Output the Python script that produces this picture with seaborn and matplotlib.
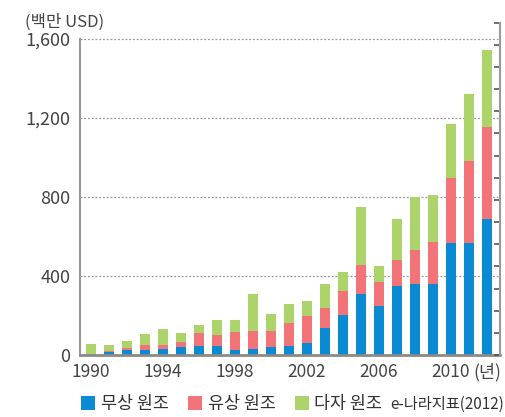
import matplotlib
matplotlib.use("Agg")
import matplotlib.pyplot as plt
import seaborn as sns
import pandas as pd
import numpy as np

years = list(range(1990, 2013))
grant = [1, 17, 27, 25, 30, 42, 47, 47, 25, 30, 42, 47, 61, 138, 203, 309, 248, 349, 359, 359, 569, 569, 689]
loan = [6, 5, 8, 25, 21, 26, 64, 54, 93, 92, 80, 117, 136, 102, 122, 147, 123, 133, 173, 213, 329, 413, 465]
multi = [49, 28, 37, 57, 81, 43, 41, 76, 59, 187, 86, 94, 76, 119, 96, 294, 80, 207, 266, 238, 270, 340, 390]
series_names = ["무상 원조", "유상 원조", "다자 원조"]
colors = ["#0A8AD2", "#F27378", "#ADD46A"]
yticks = [0, 400, 800, 1200, 1600]
ylabel = "(백만 USD)"
source = "e-나라지표(2012)"
unit_label = "(년)"

sns.set_style("white")
plt.rcParams["font.family"] = ["Noto Sans CJK KR", "DejaVu Sans"]

df = pd.DataFrame({"year": [str(y) for y in years], "grant": grant, "loan": loan, "multi": multi})
df["c1"] = df["grant"]
df["c2"] = df["grant"] + df["loan"]
df["c3"] = df["c2"] + df["multi"]

fig = plt.figure(figsize=(5.05, 4.17), dpi=100)
ax = fig.add_axes([80 / 505, 62 / 417, 420 / 505, (355 - 22.7) / 417])

order = df["year"].tolist()
w = 0.55
sns.barplot(data=df, x="year", y="c3", order=order, color=colors[2], width=w,
            saturation=1, ax=ax, linewidth=0, label=series_names[2])
sns.barplot(data=df, x="year", y="c2", order=order, color=colors[1], width=w,
            saturation=1, ax=ax, linewidth=0, label=series_names[1])
sns.barplot(data=df, x="year", y="c1", order=order, color=colors[0], width=w,
            saturation=1, ax=ax, linewidth=0, label=series_names[0])
h, l = ax.get_legend_handles_labels()
if ax.get_legend() is not None:
    ax.get_legend().remove()

ax.set_xlim(-0.61, len(years) - 1 + 0.72)
ax.set_ylim(0, 1682)
ax.set_yticks(yticks)
ax.set_yticklabels([f"{v:,}" for v in yticks])
for v in yticks[1:]:
    ax.axhline(v, color="#999999", lw=0.9, ls=(0, (1.5, 1.5)), xmax=0.995, zorder=0)

xt_labels = []
for y in years:
    if y == years[-1]:
        xt_labels.append(unit_label)
    elif (y - 1990) % 4 == 0:
        xt_labels.append(str(y))
    else:
        xt_labels.append("")
ax.set_xticks(range(len(years)))
ax.set_xticklabels(xt_labels)
ax.set_xlabel("")
ax.set_ylabel("")

ax.tick_params(axis="x", direction="out", length=5, width=1.2, color="#555555",
               labelsize=12.5, labelcolor="#444444", pad=1)
ax.tick_params(axis="y", length=0, labelsize=13, labelcolor="#444444", pad=7)

for s in ["top", "right"]:
    ax.spines[s].set_visible(False)
ax.spines["left"].set_color("#9a9a9a")
ax.spines["left"].set_linewidth(1.5)
ax.spines["left"].set_bounds(0, 1600)
ax.spines["bottom"].set_color("#8a8a8a")
ax.spines["bottom"].set_linewidth(2)

ax2 = ax.twinx()
ax2.set_ylim(0, 15)
ax2.set_yticks(range(16))
ax2.set_yticklabels([])
ax2.tick_params(axis="y", direction="in", length=4, width=1.2, color="#555555")
for s in ["top", "left", "bottom"]:
    ax2.spines[s].set_visible(False)
ax2.spines["right"].set_color("#9a9a9a")
ax2.spines["right"].set_linewidth(1.5)

fig.text(25 / 505, 1 - 22 / 417, ylabel, fontsize=12, color="#444444", va="center", ha="left")

hd = dict(zip(l, h))
handles = [hd[n] for n in series_names]
leg = fig.legend(handles, series_names, loc="center left", bbox_to_anchor=(65 / 505, 1 - 404 / 417),
                 ncol=3, frameon=False, fontsize=12.5, handlelength=0.85, handleheight=0.85,
                 handletextpad=0.3, columnspacing=1.1, labelcolor="#333333")
fig.text(390 / 505, 1 - 404 / 417, source, fontsize=11, color="#333333", va="center", ha="left")

fig.savefig("out.png", dpi=100)
